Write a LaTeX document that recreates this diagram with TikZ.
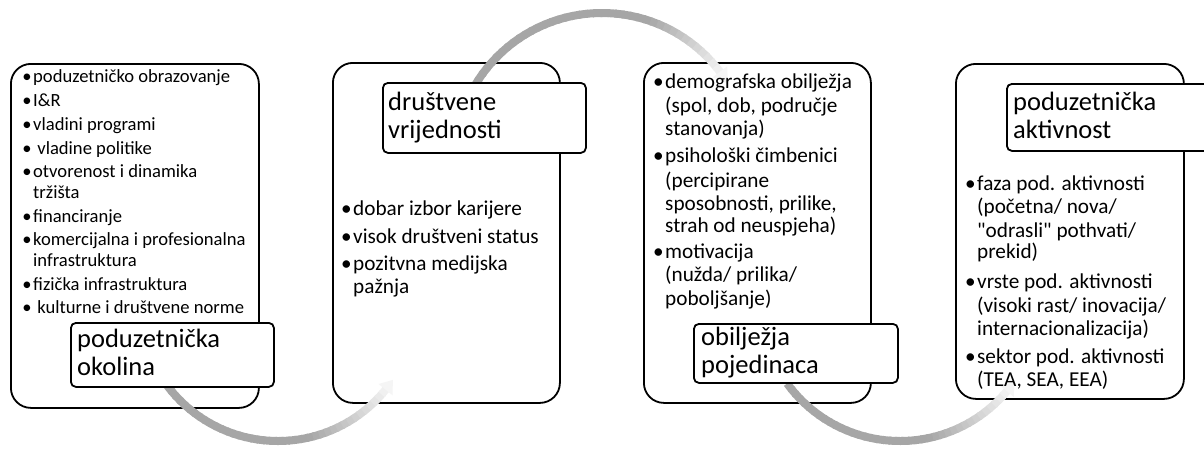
\documentclass[tikz,border=0pt]{standalone}
\usepackage{fontspec}
\setmainfont{Carlito}[Ligatures=TeXOff]
\newcommand{\bul}{\llap{•\hspace{1.5pt}}}
\newlength\mytmpw
\newcommand{\fadearc}[7]{% cx, cy, r, a0, a1(shaft end), atip, fadestart
  \foreach \k in {0,...,39}{%
    \pgfmathsetmacro\ta{#4+(#5-#4)*\k/40}%
    \pgfmathsetmacro\tb{#4+(#5-#4)*(\k+1.3)/40}%
    \pgfmathsetmacro\ff{\k/40}%
    \pgfmathsetmacro\ww{\ff<#7 ? 35 : 35-31*(\ff-#7)/(1-#7)}%
    \draw[arcline, black!\ww] plot[domain=\ta:\tb, samples=4] ({#1+#3*cos(\x)},{#2-#3*sin(\x)});
  }%
  \fill[black!4] ({#1+(#3+9)*cos(#5)},{#2-(#3+9)*sin(#5)}) -- ({#1+#3*cos(#6)},{#2-#3*sin(#6)}) -- ({#1+(#3-9)*cos(#5)},{#2-(#3-9)*sin(#5)}) -- cycle;
}
\tikzset{
  bigbox/.style={draw=black, line width=1.8pt, fill=white, rounded corners=20pt, inner sep=0pt, anchor=north west},
  lblbox/.style={draw=black, line width=1.8pt, fill=white, rounded corners=5pt, inner sep=0pt, anchor=north west},
  body/.style={anchor=base west, inner sep=0pt, font=\fontsize{\bodysz}{24}\selectfont},
  bodysmall/.style={anchor=base west, inner sep=0pt, font=\fontsize{\smallsz}{22}\selectfont},
  title/.style={anchor=base west, inner sep=0pt, font=\fontsize{\titlesz}{28}\selectfont},
  arcline/.style={line width=8pt, line cap=butt},
}
\begin{document}
\settowidth\mytmpw{\fontsize{10}{12}\selectfont poduzetnička}
\pgfmathsetmacro\titlesz{10*143/\mytmpw}
\settowidth\mytmpw{\fontsize{10}{12}\selectfont poduzetničko obrazovanje}
\pgfmathsetmacro\smallsz{10*197/\mytmpw}
\settowidth\mytmpw{\fontsize{10}{12}\selectfont visok društveni status}
\pgfmathsetmacro\bodysz{10*185.5/\mytmpw}
\begin{tikzpicture}[x=1pt,y=-1pt]
\useasboundingbox (0,0) rectangle (1204,448);
% main boxes
\node[bigbox, minimum width=248pt, minimum height=344pt] (b1) at (10,63) {};
\node[bigbox, minimum width=227pt, minimum height=340pt] (b2) at (332,62) {};
\node[bigbox, minimum width=227pt, minimum height=340pt] (b3) at (643,62) {};
\node[bigbox, minimum width=228pt, minimum height=335pt] (b4) at (955,63) {};
% arcs
\fadearc{278}{302.5}{138.5}{217}{321}{326}{0.62}
\fadearc{602}{160.7}{147.7}{150}{37}{31.5}{0.68}
\fadearc{900}{301.5}{139.5}{216}{320}{325}{0.62}
% label boxes
\node[lblbox, minimum width=203pt, minimum height=64pt] (l1) at (70,322) {};
\node[lblbox, minimum width=203pt, minimum height=70pt] (l2) at (382,82) {};
\node[lblbox, minimum width=204pt, minimum height=59pt] (l3) at (693,323) {};
\node[lblbox, minimum width=209pt, minimum height=67pt] (l4) at (1006,83) {};
% titles
\node[title] (t1a) at (77,347) {poduzetnička};
\node[title] (t1b) at (77,375) {okolina};
\node[title] (t2a) at (388,110) {društvene};
\node[title] (t2b) at (388,138) {vrijednosti};
\node[title] (t3a) at (701,345) {obilježja};
\node[title] (t3b) at (701,373) {pojedinaca};
\node[title] (t4a) at (1013,110) {poduzetnička};
\node[title] (t4b) at (1013,138) {aktivnost};
% box 1 text
\node[bodysmall] (a1) at (33,82) {\bul poduzetničko obrazovanje};
\node[bodysmall] (a2) at (33,106) {\bul I\&R};
\node[bodysmall] (a3) at (33,130) {\bul vladini programi};
\node[bodysmall] (a4) at (33,154) {\bul\ vladine politike};
\node[bodysmall] (a5) at (33,177) {\bul otvorenost i dinamika};
\node[bodysmall] (a5b) at (33,198.5) {tržišta};
\node[bodysmall] (a6) at (33,222) {\bul financiranje};
\node[bodysmall] (a7) at (33,245) {\bul komercijalna i profesionalna};
\node[bodysmall] (a7b) at (33,266.5) {infrastruktura};
\node[bodysmall] (a8) at (33,290) {\bul fizička infrastruktura};
\node[bodysmall] (a9) at (33,313) {\bul\ kulturne i društvene norme};
% box 2 text
\node[body] (c1) at (353,215) {\bul dobar izbor karijere};
\node[body] (c2) at (353,243) {\bul visok društveni status};
\node[body] (c3) at (353,270) {\bul pozitvna medijska};
\node[body] (c3b) at (353,293) {pažnja};
% box 3 text
\node[body] (d1) at (665,88) {\bul demografska obilježja};
\node[body] (d1b) at (665,112) {(spol, dob, područje};
\node[body] (d1c) at (665,135) {stanovanja)};
\node[body] (d2) at (665,162) {\bul psihološki čimbenici};
\node[body] (d2b) at (665,187) {(percipirane};
\node[body] (d2c) at (665,210) {sposobnosti, prilike,};
\node[body] (d2d) at (665,232) {strah od neuspjeha)};
\node[body] (d3) at (665,258) {\bul motivacija};
\node[body] (d3b) at (665,281.5) {(nužda/ prilika/};
\node[body] (d3c) at (665,305) {poboljšanje)};
% box 4 text
\node[body] (e1) at (977,190) {\bul faza pod. aktivnosti};
\node[body] (e1b) at (977,213) {(početna/ nova/};
\node[body] (e1c) at (977,237) {"odrasli" pothvati/};
\node[body] (e1d) at (977,258) {prekid)};
\node[body] (e2) at (977,288) {\bul vrste pod. aktivnosti};
\node[body] (e2b) at (977,312) {(visoki rast/ inovacija/};
\node[body] (e2c) at (977,335) {internacionalizacija)};
\node[body] (e3) at (977,363) {\bul sektor pod. aktivnosti};
\node[body] (e3b) at (977,386) {(TEA, SEA, EEA)};
\end{tikzpicture}
\end{document}
